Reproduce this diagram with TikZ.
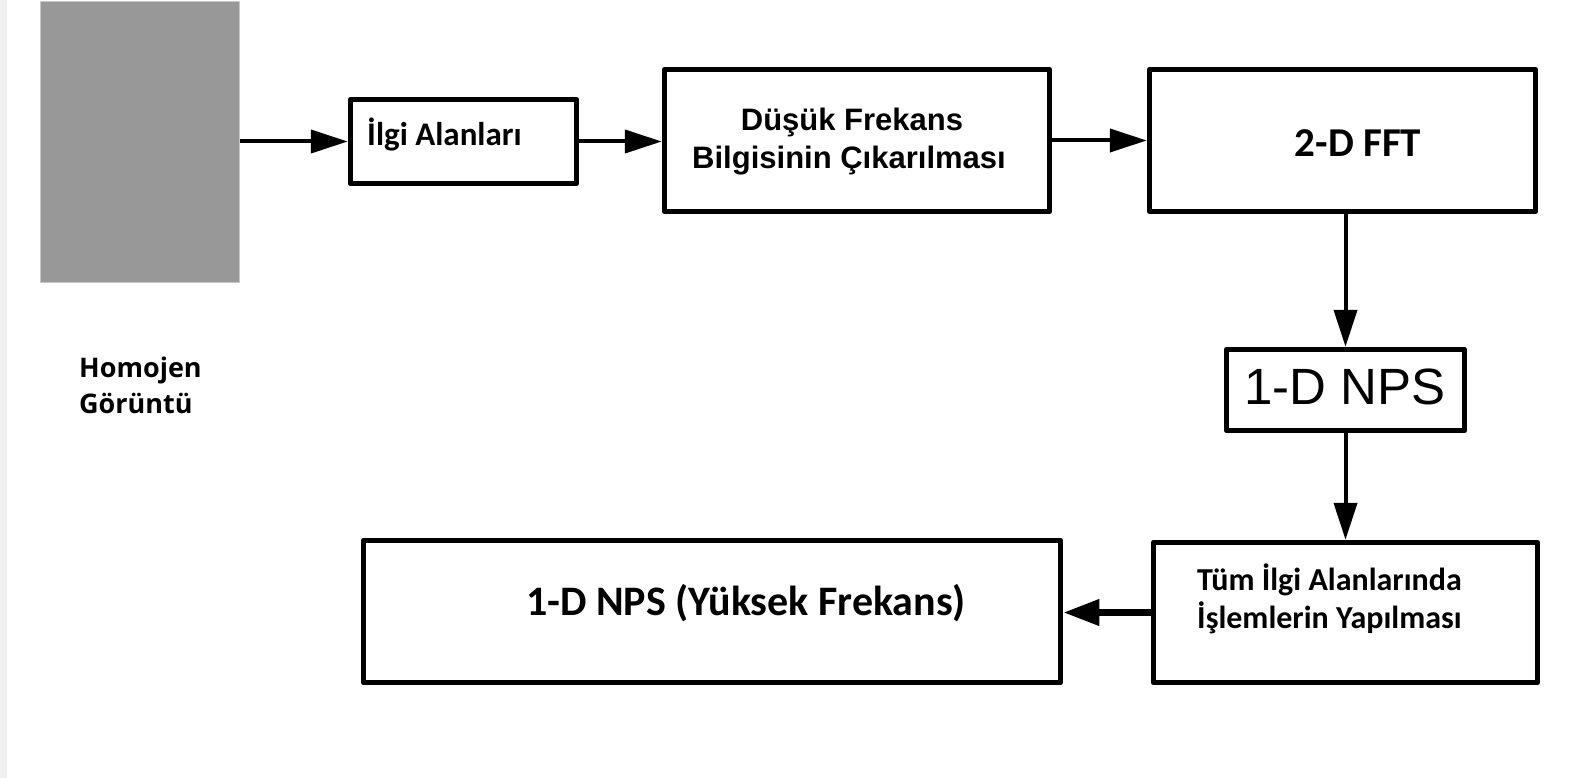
\documentclass[tikz,border=0pt]{standalone}
\usepackage{fontspec}
\usetikzlibrary{arrows.meta}
\newfontfamily\arialf{Liberation Sans}
\newfontfamily\calf{Carlito}
\newfontfamily\opensf{Open Sans}
\definecolor{imggray}{RGB}{152,152,152}
\definecolor{imgedge}{RGB}{200,200,200}
\definecolor{stripgray}{RGB}{240,240,240}
\begin{document}
\begin{tikzpicture}[x=1pt,y=-1pt,
  box/.style={draw=black,line width=5.5pt,fill=white,inner sep=0pt,line join=round},
  arr/.style={line width=4pt,-{Triangle[length=37pt,width=23pt]}},
  thickarr/.style={line width=7pt,-{Triangle[length=36pt,width=25pt]}},
  calb/.style={font=\calf\bfseries\fontsize{#1}{#1}\selectfont,inner sep=0pt},
  arib/.style={font=\arialf\bfseries\fontsize{#1}{#1}\selectfont,inner sep=0pt},
  arir/.style={font=\arialf\fontsize{#1}{#1}\selectfont,inner sep=0pt},
  opb/.style={font=\opensf\bfseries\fontsize{#1}{#1}\selectfont,inner sep=0pt}]
\useasboundingbox (0,0) rectangle (1581,778);
\fill[white] (0,0) rectangle (1581,778);
\fill[stripgray] (0,0) rectangle (7,778);
% image placeholder
\node[draw=imgedge,line width=1pt,fill=imggray,inner sep=0pt,minimum width=199pt,minimum height=281pt] (img) at (140,142) {};
% boxes
\node[box,minimum width=226pt,minimum height=84pt] (b1) at (463.5,141.5) {};
\node[box,minimum width=385pt,minimum height=142pt] (b2) at (857,140.5) {};
\node[box,minimum width=386pt,minimum height=142pt] (b3) at (1342.5,140.5) {};
\node[box,minimum width=238pt,minimum height=81pt] (b4) at (1345.5,390) {};
\node[box,minimum width=384pt,minimum height=140pt] (b5) at (1345.5,612.5) {};
\node[box,minimum width=697pt,minimum height=142pt] (b6) at (712,611.5) {};
% texts
\node[calb=33,anchor=base west] (t1) at (367,146) {İlgi Alanları};
\node[arib=31,anchor=base] (t2a) at (852,131) {Düşük Frekans};
\node[arib=31,anchor=base] (t2b) at (849,168) {Bilgisinin Çıkarılması};
\node[calb=41,anchor=base] (t3) at (1358,157) {2-D FFT};
\node[arir=51,anchor=base] (t4) at (1345,404) {1-D NPS};
\node[calb=32,anchor=base west] (t5a) at (1197,590) {Tüm İlgi Alanlarında};
\node[calb=32,anchor=base west] (t5b) at (1197,628) {İşlemlerin Yapılması};
\node[calb=42,anchor=base] (t6) at (746,615) {1-D NPS (Yüksek Frekans)};
\node[opb=27,anchor=base west] (h1) at (79,377) {Homojen};
\node[opb=27,anchor=base west] (h2) at (79,413) {Görüntü};
% connectors
\draw[arr] (img.east |- b1.west) -- (b1.west);
\draw[arr] (b1.east) -- (b2.west |- b1.east);
\draw[arr] (b2.east) -- (b3.west);
\draw[arr] (b4.north |- b3.south) -- (b4.north);
\draw[arr] (b4.south) -- (b4.south |- b5.north);
\draw[thickarr] (b5.west) -- (b6.east |- b5.west);
\end{tikzpicture}
\end{document}
